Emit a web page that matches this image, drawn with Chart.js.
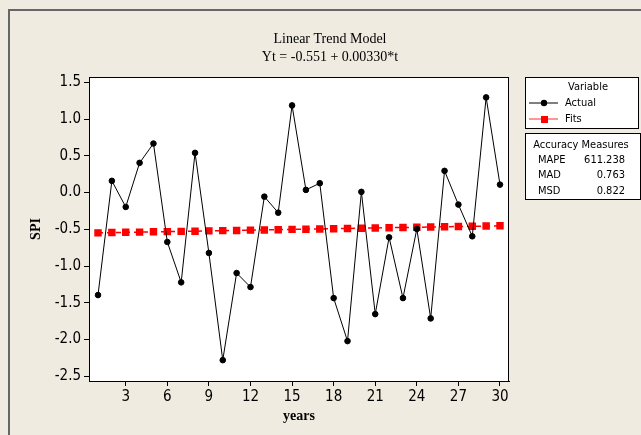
<!DOCTYPE html>
<html>
<head>
<meta charset="utf-8">
<script src="https://cdn.jsdelivr.net/npm/chart.js@4.4.1/dist/chart.umd.min.js"></script>
<style>
  html, body { margin: 0; padding: 0; background: #efebe1; }
  #wrap { width: 641px; height: 435px; position: relative; }
  #trendChart { background: #efebe1; }
</style>
</head>
<body>
<div id="wrap"><canvas id="trendChart" width="641" height="435"></canvas></div>
<script>
// data
const years = [1, 2, 3, 4, 5, 6, 7, 8, 9, 10, 11, 12, 13, 14, 15,
               16, 17, 18, 19, 20, 21, 22, 23, 24, 25, 26, 27, 28, 29, 30];
const actual = [-1.395, 0.16, -0.195, 0.405, 0.668, -0.672, -1.222, 0.541, -0.822, -2.281,
                -1.095, -1.286, -0.055, -0.273, 1.187, 0.037, 0.128, -1.436, -2.022, 0.01,
                -1.654, -0.609, -1.436, -0.495, -1.713, 0.296, -0.163, -0.595, 1.296, 0.109];
const fits = [-0.548, -0.544, -0.541, -0.538, -0.534, -0.531, -0.528, -0.525, -0.521, -0.518,
              -0.515, -0.511, -0.508, -0.505, -0.501, -0.498, -0.495, -0.492, -0.488, -0.485,
              -0.482, -0.478, -0.475, -0.472, -0.468, -0.465, -0.462, -0.459, -0.455, -0.452];
const yTicks = [-2.5, -2.0, -1.5, -1.0, -0.5, 0.0, 0.5, 1.0, 1.5];
const xTicks = [3, 6, 9, 12, 15, 18, 21, 24, 27, 30];
const titleLines = ['Linear Trend Model', 'Yt = -0.551 + 0.00330*t'];
const accuracy = [['MAPE', '611.238'], ['MAD', '0.763'], ['MSD', '0.822']];

const tickFont = { family: "'Liberation Sans Narrow', 'DejaVu Sans Condensed', sans-serif", size: 15 };
const smallFont = "11px 'DejaVu Sans Condensed', 'DejaVu Sans', sans-serif";

// frame, white plot area, title, legend boxes
const decor = {
    id: 'decor',
    afterDraw(chart) {
        const c = chart.ctx;
        const a = chart.chartArea;
        c.save();
        // white plot area slid under what is already drawn
        c.globalCompositeOperation = 'destination-over';
        c.fillStyle = '#ffffff';
        c.fillRect(a.left, a.top, a.right - a.left, a.bottom - a.top);
        c.globalCompositeOperation = 'source-over';

        c.strokeStyle = '#666';
        c.lineWidth = 2;
        c.beginPath();
        c.moveTo(9, chart.height);
        c.lineTo(9, 10);
        c.lineTo(chart.width, 10);
        c.stroke();

        c.strokeStyle = '#000';
        c.lineWidth = 1;
        c.strokeRect(a.left + 0.5, a.top + 0.5, a.right - a.left - 1, a.bottom - a.top);

        // title
        c.fillStyle = '#000';
        c.font = "14px 'Liberation Serif', serif";
        c.textAlign = 'center';
        c.textBaseline = 'middle';
        c.fillText(titleLines[0], 330, 39);
        c.fillText(titleLines[1], 330, 57);

        // legend box
        c.fillStyle = '#fff';
        c.fillRect(525, 77, 114, 52);
        c.strokeRect(525.5, 77.5, 113, 51);
        c.fillStyle = '#000';
        c.font = smallFont;
        c.fillText('Variable', 588, 87);
        c.textAlign = 'left';
        c.fillText('Actual', 565, 103);
        c.fillText('Fits', 565, 119);
        c.beginPath();
        c.moveTo(529, 103);
        c.lineTo(558, 103);
        c.stroke();
        c.beginPath();
        c.arc(544, 103, 3.2, 0, Math.PI * 2);
        c.fill();
        c.strokeStyle = '#ff5050';
        c.lineWidth = 1.2;
        c.beginPath();
        c.moveTo(529, 119);
        c.lineTo(558, 119);
        c.stroke();
        c.fillStyle = '#ff0000';
        c.fillRect(541, 116, 7, 7);

        // accuracy box
        c.strokeStyle = '#000';
        c.lineWidth = 1;
        c.fillStyle = '#fff';
        c.fillRect(525, 133, 116, 67);
        c.strokeRect(525.5, 133.5, 115, 66);
        c.fillStyle = '#000';
        c.textAlign = 'center';
        c.fillText('Accuracy Measures', 581, 145);
        accuracy.forEach((row, i) => {
            const y = 160 + i * 15.5;
            c.textAlign = 'left';
            c.fillText(row[0], 538, y);
            c.textAlign = 'right';
            c.fillText(row[1], 625, y);
        });
        c.restore();
    }
};

const ctx = document.getElementById('trendChart').getContext('2d');
new Chart(ctx, {
    type: 'line',
    data: {
        labels: years,
        datasets: [
            {
                label: 'Actual',
                data: years.map((t, i) => ({ x: t, y: actual[i] })),
                borderColor: '#000',
                backgroundColor: '#000',
                borderWidth: 1,
                pointRadius: 2.8,
                pointStyle: 'circle',
                tension: 0
            },
            {
                label: 'Fits',
                data: years.map((t, i) => ({ x: t, y: fits[i] })),
                borderColor: '#ff0000',
                backgroundColor: '#ff0000',
                borderWidth: 1.5,
                borderDash: [5, 4],
                pointRadius: 4.2,
                pointStyle: 'rect',
                tension: 0
            }
        ]
    },
    options: {
        responsive: false,
        animation: false,
        layout: { padding: { top: 77, right: 132, bottom: 0, left: 0 } },
        plugins: {
            legend: { display: false },
            tooltip: { enabled: false },
            title: { display: false }
        },
        scales: {
            x: {
                type: 'linear',
                min: 0.35,
                max: 30.65,
                afterBuildTicks: s => { s.ticks = xTicks.map(v => ({ value: v })); },
                afterFit: s => { s.height = 54; },
                grid: { drawOnChartArea: false, drawTicks: true, tickLength: 5, color: '#000' },
                border: { display: true, color: '#000' },
                ticks: { font: tickFont, color: '#000', padding: 2, maxRotation: 0, autoSkip: false },
                title: {
                    display: true, text: 'years', color: '#000',
                    font: { family: "'Liberation Serif', serif", size: 14, weight: 'bold' },
                    padding: { top: 0, bottom: 10 }
                }
            },
            y: {
                min: -2.565,
                max: 1.574,
                afterBuildTicks: s => { s.ticks = yTicks.map(v => ({ value: v })); },
                afterFit: s => { s.width = 89; },
                grid: { drawOnChartArea: false, drawTicks: true, tickLength: 5, color: '#000' },
                border: { display: true, color: '#000' },
                ticks: {
                    font: tickFont, color: '#000', padding: 3,
                    callback: v => v.toFixed(1)
                },
                title: {
                    display: true, text: 'SPI', color: '#000',
                    font: { family: "'Liberation Serif', serif", size: 14, weight: 'bold' },
                    padding: { top: 28, bottom: 0 }
                }
            }
        }
    },
    plugins: [decor]
});
</script>
</body>
</html>
